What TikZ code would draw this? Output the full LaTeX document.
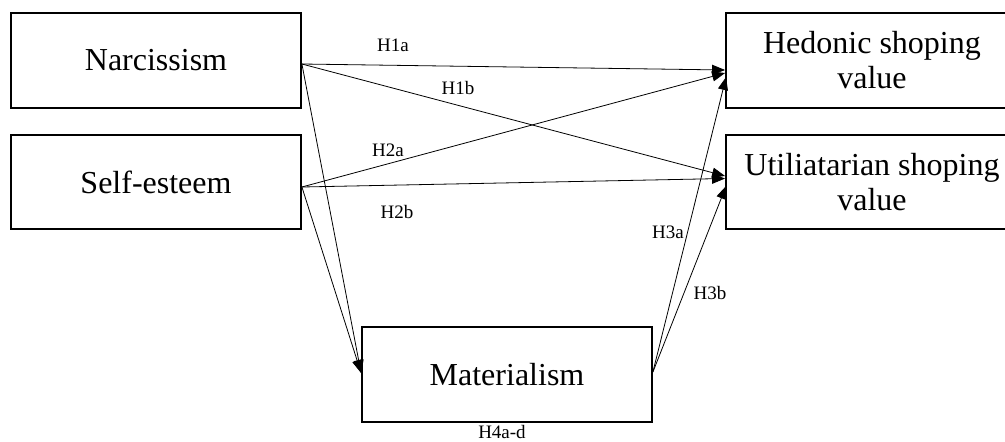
\documentclass[tikz,border=0pt]{standalone}
\usepackage{fontspec}
\setmainfont{Liberation Serif}
\usetikzlibrary{arrows.meta,calc}
\tikzset{
  varbox/.style={draw, line width=1.8pt, rectangle, minimum width=290pt, minimum height=95pt, inner sep=0pt, align=center, font=\fontsize{32}{35}\selectfont},
  link/.style={line width=0.8pt, -{Triangle[length=13pt,width=10pt]}},
  hyp/.style={font=\fontsize{19}{21}\selectfont, inner sep=0pt}
}
\begin{document}
\begin{tikzpicture}[x=1pt,y=-1pt]
\useasboundingbox (0,0) rectangle (1005,442);
\clip (0,0) rectangle (1005,442);
\node[varbox] (narc) at (156,60.5) {Narcissism};
\node[varbox, minimum height=94pt] (self) at (156,182) {Self-esteem};
\node[varbox, minimum width=292pt] (hed) at (872,60.5) {Hedonic shoping\\value};
\node[varbox, minimum width=292pt, minimum height=94pt] (util) at (872,182) {Utiliatarian shoping\\value};
\node[varbox] (mat) at (507,374.5) {Materialism};
% start/end points
\coordinate (ns) at ($(narc.east)+(0,3.5)$);
\coordinate (ss) at ($(self.east)+(0,5)$);
\coordinate (ms) at ($(mat.east)+(0,-2.5)$);
\coordinate (h1) at ($(hed.west)+(0,9.5)$);
\coordinate (h2) at ($(hed.west)+(0,12.5)$);
\coordinate (h3) at ($(hed.west)+(1,16.5)$);
\coordinate (u1) at ($(util.west)+(0,-6)$);
\coordinate (u2) at ($(util.west)+(0,-3.5)$);
\coordinate (u3) at ($(util.west)+(1,4)$);
\coordinate (mt) at ($(mat.west)+(0,-1.5)$);
\draw[link] (ns) -- (h1);
\draw[link] (ns) -- (u1);
\draw[link] (ns) -- (mt);
\draw[link] (ss) -- (h2);
\draw[link] (ss) -- (u2);
\draw[link] (ss) -- (mt);
\draw[link] (ms) -- (h3);
\draw[link] (ms) -- (u3);
\node[hyp] (l1a) at (393,45) {H1a};
\node[hyp] (l1b) at (458,88) {H1b};
\node[hyp] (l2a) at (388,150) {H2a};
\node[hyp] (l2b) at (397,212) {H2b};
\node[hyp] (l3a) at (668,232) {H3a};
\node[hyp] (l3b) at (710,293) {H3b};
\node[hyp] (l4) at (502,432) {H4a-d};
\end{tikzpicture}
\end{document}
